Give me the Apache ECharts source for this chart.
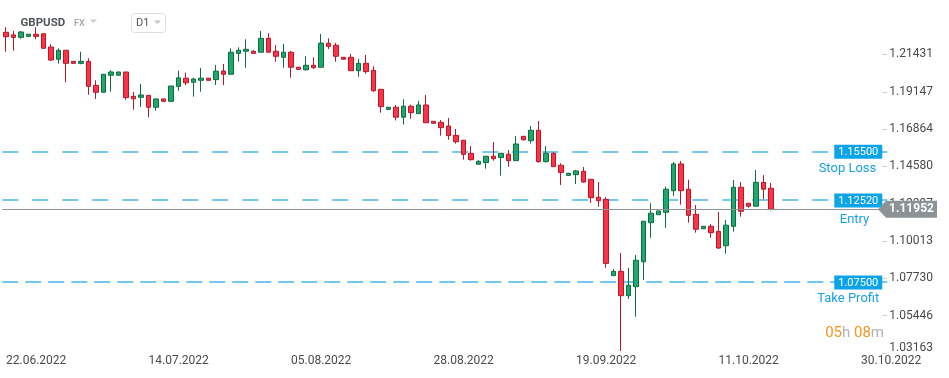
<!DOCTYPE html>
<html>
<head>
<meta charset="utf-8">
<script src="https://cdn.jsdelivr.net/npm/echarts@6/dist/echarts.min.js"></script>
<style>
  html, body { margin: 0; padding: 0; background: #fff; }
  #chart { width: 949px; height: 378px; }
</style>
</head>
<body>
<div id="chart"></div>
<script>
// GBPUSD D1 candles (22.06.2022 - 18.10.2022)
const opens = [
  1.2279, 1.2263, 1.2248, 1.2254, 1.2267, 1.2270, 1.2189, 1.2114, 1.2169, 1.2101,
  1.2089, 1.2101, 1.1954, 1.1912, 1.2016, 1.2016, 1.2036, 1.1887, 1.1881, 1.1893,
  1.1820, 1.1871, 1.1856, 1.1948, 1.1998, 1.1973, 1.1985, 1.1998, 1.1989, 1.2042,
  1.2022, 1.2150, 1.2163, 1.2163, 1.2157, 1.2242, 1.2163, 1.2126, 1.2157, 1.2065,
  1.2050, 1.2077, 1.2065, 1.2212, 1.2200, 1.2126, 1.2126, 1.2044, 1.2089, 1.2046,
  1.1930, 1.1807, 1.1820, 1.1759, 1.1826, 1.1781, 1.1834, 1.1734, 1.1728, 1.1705,
  1.1648, 1.1618, 1.1538, 1.1471, 1.1481, 1.1520, 1.1512, 1.1532, 1.1493, 1.1642,
  1.1615, 1.1679, 1.1487, 1.1538, 1.1465, 1.1403, 1.1407, 1.1428, 1.1379, 1.1269,
  1.1256, 1.0789, 1.0815, 1.0666, 1.0721, 1.0874, 1.1113, 1.1162, 1.1177, 1.1309,
  1.1473, 1.1318, 1.1164, 1.1076, 1.1091, 1.1060, 1.0972, 1.1091, 1.1330, 1.1232,
  1.1214, 1.1360, 1.1324
];
const closes = [
  1.2252, 1.2248, 1.2281, 1.2267, 1.2254, 1.2181, 1.2109, 1.2169, 1.2089, 1.2089,
  1.2101, 1.1948, 1.1912, 1.2022, 1.2036, 1.2036, 1.1879, 1.1872, 1.1895, 1.1820,
  1.1871, 1.1856, 1.1950, 1.2000, 1.1970, 1.1993, 1.1998, 1.1985, 1.2041, 1.2022,
  1.2157, 1.2169, 1.2175, 1.2150, 1.2242, 1.2157, 1.2132, 1.2157, 1.2065, 1.2052,
  1.2077, 1.2062, 1.2213, 1.2193, 1.2132, 1.2114, 1.2044, 1.2089, 1.2038, 1.1921,
  1.1824, 1.1820, 1.1759, 1.1826, 1.1787, 1.1834, 1.1725, 1.1722, 1.1695, 1.1646,
  1.1609, 1.1532, 1.1499, 1.1489, 1.1520, 1.1505, 1.1538, 1.1493, 1.1595, 1.1621,
  1.1679, 1.1487, 1.1538, 1.1456, 1.1420, 1.1416, 1.1430, 1.1362, 1.1266, 1.1248,
  1.0864, 1.0815, 1.0666, 1.0730, 1.0883, 1.1122, 1.1171, 1.1185, 1.1318, 1.1473,
  1.1309, 1.1158, 1.1073, 1.1091, 1.1052, 1.0958, 1.1098, 1.1330, 1.1183, 1.1214,
  1.1360, 1.1318, 1.11952
];
const lows = [
  1.2160, 1.2166, 1.2240, 1.2252, 1.2236, 1.2180, 1.2103, 1.2087, 1.1973, 1.2087,
  1.2083, 1.1897, 1.1871, 1.1912, 1.1915, 1.2016, 1.1866, 1.1805, 1.1822, 1.1759,
  1.1799, 1.1856, 1.1856, 1.1921, 1.1955, 1.1885, 1.1915, 1.1984, 1.1956, 1.1956,
  1.2022, 1.2099, 1.2062, 1.2150, 1.2157, 1.2157, 1.2099, 1.2062, 1.2001, 1.2051,
  1.2044, 1.2056, 1.2065, 1.2177, 1.2099, 1.2112, 1.2044, 1.2007, 1.2026, 1.1915,
  1.1787, 1.1806, 1.1739, 1.1714, 1.1750, 1.1781, 1.1725, 1.1720, 1.1646, 1.1621,
  1.1597, 1.1499, 1.1493, 1.1471, 1.1444, 1.1493, 1.1401, 1.1456, 1.1493, 1.1615,
  1.1597, 1.1481, 1.1481, 1.1456, 1.1344, 1.1402, 1.1350, 1.1358, 1.1234, 1.1211,
  1.0837, 1.0789, 1.0327, 1.0646, 1.0537, 1.0762, 1.1021, 1.1162, 1.1082, 1.1278,
  1.1223, 1.1113, 1.1052, 1.1074, 1.1021, 1.0952, 1.0923, 1.1058, 1.1150, 1.1205,
  1.1214, 1.1257, 1.1189
];
const highs = [
  1.2310, 1.2287, 1.2287, 1.2269, 1.2310, 1.2272, 1.2207, 1.2181, 1.2169, 1.2103,
  1.2160, 1.2120, 1.1985, 1.2022, 1.2046, 1.2036, 1.2036, 1.1913, 1.1962, 1.1893,
  1.1871, 1.1871, 1.1950, 1.2044, 1.2032, 1.2001, 1.2061, 1.2000, 1.2079, 1.2085,
  1.2181, 1.2187, 1.2236, 1.2169, 1.2287, 1.2273, 1.2201, 1.2207, 1.2165, 1.2066,
  1.2132, 1.2126, 1.2269, 1.2242, 1.2214, 1.2128, 1.2146, 1.2116, 1.2140, 1.2071,
  1.1930, 1.1822, 1.1834, 1.1869, 1.1836, 1.1858, 1.1895, 1.1735, 1.1742, 1.1754,
  1.1687, 1.1618, 1.1582, 1.1495, 1.1520, 1.1607, 1.1538, 1.1558, 1.1644, 1.1644,
  1.1705, 1.1736, 1.1582, 1.1544, 1.1477, 1.1417, 1.1436, 1.1454, 1.1379, 1.1362,
  1.1269, 1.0829, 1.0928, 1.0836, 1.0915, 1.1122, 1.1232, 1.1185, 1.1334, 1.1485,
  1.1491, 1.1376, 1.1221, 1.1093, 1.1105, 1.1179, 1.1130, 1.1375, 1.1362, 1.1232,
  1.1436, 1.1405, 1.1356
];

// trade levels
const levelValues = [1.155, 1.1252, 1.075];
const levelNames = ["Stop Loss", "Entry", "Take Profit"];
const lastPrice = closes[closes.length - 1];

// axis labels
const xTickLabels = ["22.06.2022", "14.07.2022", "05.08.2022", "28.08.2022", "19.09.2022", "11.10.2022", "30.10.2022"];
const yTicks = [1.03163, 1.05446, 1.0773, 1.10013, 1.12297, 1.1458, 1.16864, 1.19147, 1.21431];

// daily bars (Sun-Fri), plus empty future bars on the right
const categories = [];
const day = new Date(2022, 5, 22);
while (categories.length < 118) {
  if (day.getDay() !== 6) {
    categories.push(
      String(day.getDate()).padStart(2, "0") + "." +
      String(day.getMonth() + 1).padStart(2, "0") + "." + day.getFullYear()
    );
  }
  day.setDate(day.getDate() + 1);
}

const candleData = opens.map((o, i) => [o, closes[i], lows[i], highs[i]]);

const namePad = [6, 13, 3];
const nameLine = [17, 20, 17];
const levelLines = levelValues.map((v, i) => ({
  yAxis: v,
  lineStyle: { type: i === 2 ? [16, 7] : [16, 14] },
  label: {
    formatter: "{box|" + v.toFixed(5) + "}\n{name|" + levelNames[i] + "}",
    padding: [nameLine[i] + 1, 0, 0, 0],
    rich: {
      box: {
        backgroundColor: "#0ca4e8",
        color: "#fff",
        fontSize: 11,
        lineHeight: 12,
        padding: [2, 4, 1, 4],
        fontFamily: "Roboto"
      },
      name: {
        color: "#19a0e4",
        fontSize: 13,
        lineHeight: nameLine[i],
        padding: [0, namePad[i], 0, 0],
        verticalAlign: "bottom",
        fontFamily: "Roboto"
      }
    }
  }
}));

const Y_MIN = 1.03163;
const chart = echarts.init(document.getElementById("chart"));
chart.setOption({
  animation: false,
  grid: {
    left: 2.25,
    right: 61.75,
    top: 0,
    bottom: 25.2,
    outerBoundsMode: "none"
  },
  xAxis: {
    type: "category",
    data: categories,
    boundaryGap: true,
    axisLine: { show: false },
    axisTick: { show: false },
    splitLine: { show: false },
    axisLabel: {
      interval: (index) => index % 19 === 0,
      formatter: (value, index) => xTickLabels[index / 19] || "",
      align: "left",
      margin: 2,
      fontSize: 12,
      color: "#4a4a4a",
      fontFamily: "Roboto"
    }
  },
  yAxis: {
    type: "value",
    position: "right",
    min: Y_MIN,
    max: 1.24768,
    scale: true,
    splitLine: { show: false },
    axisLine: { show: false },
    axisTick: {
      show: true,
      inside: true,
      length: 5,
      customValues: yTicks,
      lineStyle: { color: "#cfcfcf" }
    },
    axisLabel: {
      customValues: yTicks,
      margin: 2,
      fontSize: 12,
      color: "#4a4a4a",
      fontFamily: "Roboto",
      formatter: (v) => (Math.abs(v - Y_MIN) < 1e-7 ? "{low|" + v.toFixed(5) + "}" : v.toFixed(5)),
      rich: {
        low: { fontSize: 12, color: "#4a4a4a", fontFamily: "Roboto", padding: [0, 0, 9, 0] }
      }
    }
  },
  series: [
    {
      name: "levels",
      type: "line",
      z: 1,
      data: [],
      markLine: {
        silent: true,
        precision: 5,
        z: 1,
        symbol: ["none", "none"],
        lineStyle: { color: "#46b6ee", width: 1.5 },
        label: {
          show: true,
          position: "insideEnd",
          distance: 5,
          align: "right"
        },
        data: levelLines
      }
    },
    {
      name: "GBPUSD",
      type: "candlestick",
      z: 2,
      barWidth: 5,
      data: candleData,
      itemStyle: {
        color: "#1fa86c",
        color0: "#ff3346",
        borderColor: "#0d6d40",
        borderColor0: "#b3192b",
        borderWidth: 1
      }
    },
    {
      name: "price",
      type: "line",
      data: [],
      markLine: {
        silent: true,
        precision: 5,
        z: 10,
        symbol: ["none", "none"],
        lineStyle: { color: "#8c9396", width: 1, type: "solid" },
        label: { show: false },
        data: [{ yAxis: lastPrice }]
      }
    }
  ]
});

// current price tag on the price axis
const py = chart.convertToPixel({ yAxisIndex: 0 }, lastPrice);
chart.setOption({
  graphic: [
    {
      type: "polygon",
      z: 100,
      shape: { points: [[878, py], [886, py - 8.5], [937, py - 8.5], [937, py + 8.5], [886, py + 8.5]] },
      style: { fill: "#8c9396" }
    },
    {
      type: "text",
      z: 101,
      x: 911.5,
      y: py,
      style: {
        text: lastPrice.toFixed(5),
        fill: "#fff",
        font: "bold 12px Roboto",
        align: "center",
        verticalAlign: "middle"
      }
    },
    {
      type: "text",
      z: 100,
      x: 20.5,
      y: 23,
      style: { text: "GBPUSD", fill: "#505558", font: "bold 11.5px Roboto", verticalAlign: "middle" }
    },
    {
      type: "text",
      z: 100,
      x: 74,
      y: 23.5,
      style: { text: "FX", fill: "#a7aeb3", font: "bold 9px Roboto", verticalAlign: "middle" }
    },
    {
      type: "polygon",
      z: 100,
      shape: { points: [[90, 19.5], [97, 19.5], [93.5, 23]] },
      style: { fill: "#c9ccce" }
    },
    {
      type: "rect",
      z: 100,
      shape: { x: 131.5, y: 13.5, width: 34, height: 19, r: 3 },
      style: { fill: "#fff", stroke: "#dedede", lineWidth: 1 }
    },
    {
      type: "text",
      z: 101,
      x: 136,
      y: 23,
      style: { text: "D1", fill: "#555", font: "11px Roboto", verticalAlign: "middle" }
    },
    {
      type: "polygon",
      z: 101,
      shape: { points: [[154, 20.5], [161, 20.5], [157.5, 24]] },
      style: { fill: "#c2c5c7" }
    },
    {
      type: "text",
      z: 100,
      x: 884,
      y: 333,
      style: {
        text: "{o|05}{g|h }{o|08}{g|m}",
        align: "right",
        verticalAlign: "middle",
        rich: {
          o: { fill: "#f7941d", fontSize: 15, fontFamily: "Roboto" },
          g: { fill: "#b3b3b3", fontSize: 15, fontFamily: "Roboto" }
        }
      }
    }
  ]
});
</script>
</body>
</html>
